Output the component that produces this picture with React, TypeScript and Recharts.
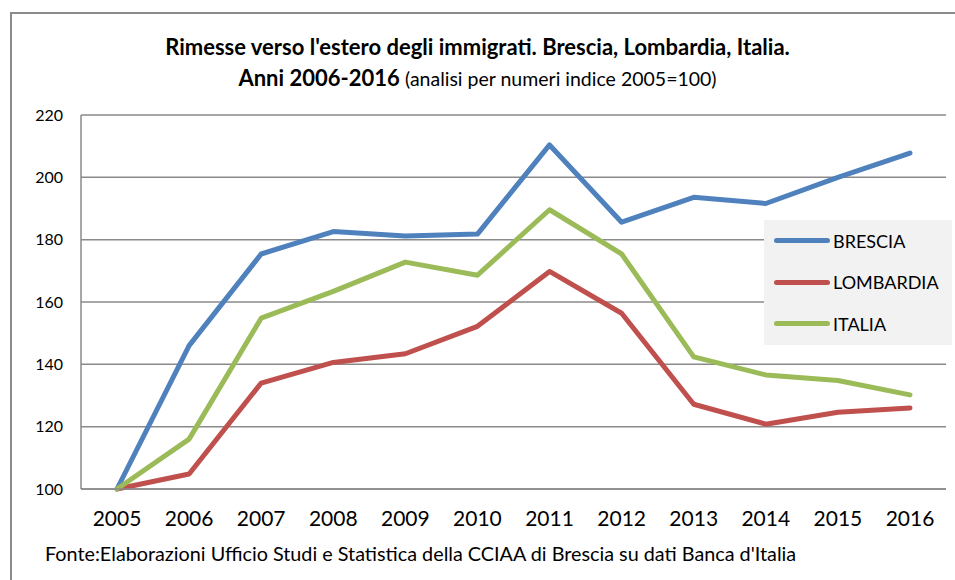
import React from "react";
import { LineChart, Line, XAxis, YAxis, CartesianGrid } from "recharts";

const years = ["2005", "2006", "2007", "2008", "2009", "2010", "2011", "2012", "2013", "2014", "2015", "2016"];
const brescia = [100, 146, 175.4, 182.6, 181.2, 181.8, 210.4, 185.6, 193.6, 191.6, 200, 207.8];
const lombardia = [100, 104.8, 134, 140.6, 143.4, 152.2, 169.8, 156.4, 127.2, 120.8, 124.6, 126];
const italia = [100, 116, 154.8, 163.4, 172.8, 168.6, 189.6, 175.4, 142.4, 136.6, 134.8, 130.2];
const yTicks = [100, 120, 140, 160, 180, 200, 220];

const series = [
  { key: "BRESCIA", values: brescia, color: "#4F81BD" },
  { key: "LOMBARDIA", values: lombardia, color: "#C0504D" },
  { key: "ITALIA", values: italia, color: "#9BBB59" },
];

const data = years.map((y, i) => {
  const row: Record<string, string | number> = { year: y };
  series.forEach((s) => (row[s.key] = s.values[i]));
  return row;
});

const FONT = "Lato, 'Noto Sans', sans-serif";

export default function App() {
  return (
    <div style={{ position: "absolute", left: 0, top: 0, width: 955, height: 580, background: "#fff", overflow: "hidden" }}>
      <div
        style={{
          position: "absolute",
          left: 10,
          top: 12,
          width: 960,
          height: 600,
          borderLeft: "2px solid #8a8a8a",
          borderTop: "2px solid #8a8a8a",
        }}
      />
      <div
        style={{
          position: "absolute",
          left: 0,
          width: 955,
          top: 31,
          textAlign: "center",
          fontFamily: FONT,
          fontWeight: 700,
          fontSize: 22,
          color: "#000",
          lineHeight: "31px",
        }}
      >
        <div>Rimesse verso l'estero degli immigrati. Brescia, Lombardia, Italia.</div>
        <div>
          Anni 2006-2016 <span style={{ fontWeight: 400, fontSize: 19.5 }}>(analisi per numeri indice 2005=100)</span>
        </div>
      </div>
      <LineChart
        width={955}
        height={580}
        data={data}
        margin={{ top: 115, right: 9, left: 0, bottom: 61 }}
        style={{ position: "absolute", left: 0, top: 0 }}
      >
        <CartesianGrid vertical={false} stroke="#8a8a8a" strokeWidth={1.5} />
        <XAxis
          dataKey="year"
          height={30}
          padding={{ left: 36, right: 36 }}
          tickLine={false}
          axisLine={{ stroke: "#8a8a8a", strokeWidth: 1.5 }}
          tick={{ fontFamily: FONT, fontSize: 21, fill: "#000" }}
          tickMargin={22}
          tickSize={0}
        />
        <YAxis
          width={81}
          domain={[100, 220]}
          ticks={yTicks}
          tickLine={false}
          axisLine={{ stroke: "#8a8a8a", strokeWidth: 1.5 }}
          tick={{ fontFamily: FONT, fontSize: 16, fill: "#000" }}
          tickSize={0}
          tickMargin={18}
        />
        {series.map((s) => (
          <Line
            key={s.key}
            dataKey={s.key}
            name={s.key}
            stroke={s.color}
            strokeWidth={5}
            strokeLinecap="round"
            strokeLinejoin="round"
            dot={false}
            activeDot={false}
            isAnimationActive={false}
          />
        ))}
      </LineChart>
      <div
        style={{
          position: "absolute",
          left: 764,
          top: 220,
          width: 188,
          height: 125,
          background: "#f2f2f2",
          boxSizing: "border-box",
          paddingTop: 0,
          paddingLeft: 10,
          fontFamily: FONT,
          fontSize: 18,
          color: "#000",
        }}
      >
        {series.map((s) => (
          <div key={s.key} style={{ display: "flex", alignItems: "center", height: 41.5 }}>
            <div style={{ width: 56, height: 5, borderRadius: 3, background: s.color, marginRight: 3 }} />
            <span>{s.key}</span>
          </div>
        ))}
      </div>
      <div
        style={{
          position: "absolute",
          left: 45,
          top: 541,
          fontFamily: FONT,
          fontSize: 19.8,
          color: "#000",
        }}
      >
        Fonte:Elaborazioni Ufficio Studi e Statistica della CCIAA di Brescia su dati Banca d'Italia
      </div>
    </div>
  );
}
